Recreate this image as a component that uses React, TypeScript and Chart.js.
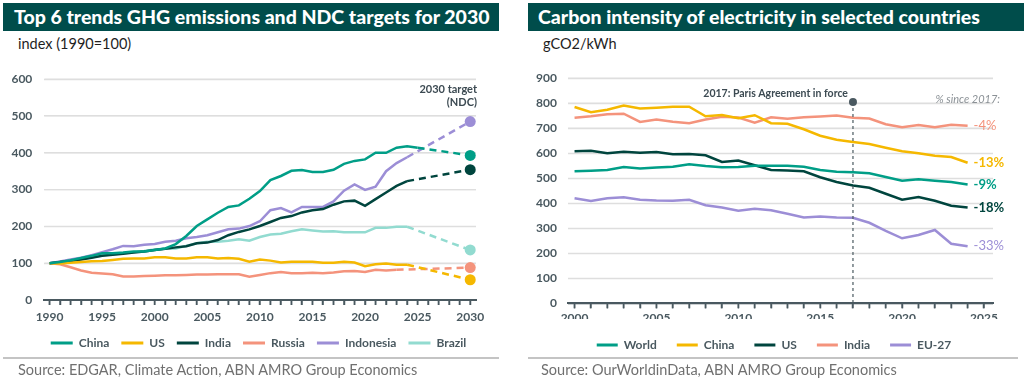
import React, { useEffect, useRef } from 'react';
import { Chart, registerables } from 'chart.js';

Chart.register(...registerables);

const FONT = 'Lato, "Open Sans", "Noto Sans", sans-serif';
Chart.defaults.font.family = FONT;

// ---------- Colours ----------
const TEAL = '#009e87';
const YELLOW = '#f5b800';
const DARK = '#00453e';
const SALMON = '#f4937c';
const PURPLE = '#9c8ed6';
const LIGHTTEAL = '#92dbd0';
const AXIS = '#4a5960';
const BANNER = '#004d4b';
const GRID = '#dedede';

// ---------- Left chart data ----------
const leftYears = [
  1990, 1991, 1992, 1993, 1994, 1995, 1996, 1997, 1998, 1999,
  2000, 2001, 2002, 2003, 2004, 2005, 2006, 2007, 2008, 2009,
  2010, 2011, 2012, 2013, 2014, 2015, 2016, 2017, 2018, 2019,
  2020, 2021, 2022, 2023, 2024, 2025,
];
const leftTickLabels = [1990, 1995, 2000, 2005, 2010, 2015, 2020, 2025, 2030];
const leftSeriesNames = ['China', 'US', 'India', 'Russia', 'Indonesia', 'Brazil'];
const chinaIdx = [
  100, 103, 108, 114, 120, 127, 127, 129, 132, 132,
  136, 140, 152, 174, 201, 219, 237, 253, 257, 275,
  296, 326, 337, 351, 353, 348, 348, 354, 370, 378,
  382, 400, 400, 414, 418, 414,
];
const usIdx = [
  100, 99, 101, 103, 105, 106, 109, 112, 113, 113,
  116, 116, 113, 113, 116, 116, 113, 114, 112, 104,
  110, 107, 102, 104, 104, 104, 101, 101, 104, 102,
  92, 97, 99, 96, 96,
];
const indiaIdx = [
  100, 103, 106, 110, 115, 120, 123, 126, 129, 132,
  136, 139, 143, 146, 154, 156, 163, 176, 185, 192,
  201, 212, 223, 228, 238, 244, 247, 259, 268, 270,
  256, 274, 292, 310, 323,
];
const russiaIdx = [
  100, 97, 89, 80, 74, 72, 70, 64, 64, 65,
  66, 67, 67, 68, 69, 69, 70, 70, 70, 63,
  68, 73, 76, 73, 73, 74, 73, 75, 78, 79,
  76, 82, 80, 82,
];
const indonesiaIdx = [
  100, 105, 110, 115, 122, 130, 138, 147, 146, 150,
  152, 158, 161, 168, 171, 176, 184, 192, 194, 201,
  214, 244, 250, 238, 253, 253, 253, 268, 297, 314,
  299, 308, 350, 372, 388,
];
const brazilIdx = [
  100, 103, 107, 111, 116, 121, 124, 127, 130, 133,
  137, 139, 140, 147, 154, 158, 158, 161, 165, 161,
  171, 178, 180, 187, 192, 189, 186, 187, 184, 184,
  184, 196, 196, 199, 199,
];
const targetYear = 2030;
const ndcTargets = [393, 55, 354, 88, 485, 136];

// ---------- Right chart data ----------
const rightYears = [
  2000, 2001, 2002, 2003, 2004, 2005, 2006, 2007, 2008, 2009,
  2010, 2011, 2012, 2013, 2014, 2015, 2016, 2017, 2018, 2019,
  2020, 2021, 2022, 2023, 2024,
];
const rightTickLabels = [2000, 2005, 2010, 2015, 2020, 2025];
const rightSeriesNames = ['World', 'China', 'US', 'India', 'EU-27'];
const worldCI = [
  528, 530, 533, 545, 539, 543, 546, 556, 549, 544,
  545, 550, 550, 550, 546, 533, 526, 524, 520, 505,
  490, 496, 490, 485, 475,
];
const chinaCI = [
  785, 764, 774, 791, 779, 782, 786, 786, 748, 753,
  740, 752, 720, 718, 696, 670, 654, 645, 637, 622,
  608, 600, 590, 585, 562,
];
const usCI = [
  608, 610, 600, 606, 602, 605, 596, 597, 592, 565,
  571, 552, 533, 531, 528, 504, 485, 471, 462, 438,
  414, 425, 410, 390, 383,
];
const indiaCI = [
  742, 748, 756, 758, 725, 735, 726, 720, 735, 746,
  743, 722, 744, 738, 744, 747, 751, 742, 739, 716,
  704, 713, 704, 714, 710,
];
const eu27CI = [
  420, 409, 420, 424, 414, 411, 410, 414, 392, 383,
  370, 378, 372, 358, 343, 347, 343, 342, 322, 290,
  260, 273, 293, 238, 228,
];
const pctSince2017 = ['-9%', '-13%', '-18%', '-4%', '-33%'];
const parisYear = 2017;
const parisLabel = '2017: Paris Agreement in force';
const pctHeader = '% since 2017:';

// ---------- helpers ----------
const toXY = (years: number[], vals: number[]) => vals.map((v, i) => ({ x: years[i], y: v }));

const legendLabels = (count: number, boxWidth: number, padding: number) => ({
  boxWidth,
  boxHeight: 3,
  padding,
  color: AXIS,
  font: { size: 12, weight: 'bold' as const, family: FONT },
  filter: (item: any) => item.datasetIndex < count,
  generateLabels: (chart: any) =>
    (Chart.defaults.plugins.legend.labels as any).generateLabels(chart).map((l: any) => ({
      ...l,
      lineWidth: 0,
      fillStyle: chart.data.datasets[l.datasetIndex].borderColor,
    })),
});

// shifts the legend so that its row is centred on a given canvas x
const legendShift = (centerX: number) => ({
  id: 'legendShift',
  afterLayout(chart: any) {
    const lg = chart.legend;
    if (!lg) return;
    const dx = centerX - (lg.left + lg.right) / 2;
    lg.left += dx;
    lg.right += dx;
  },
});

// paints the horizontal grid, the x axis line and its year tick marks from the chart's own scales
const axesPaint = {
  id: 'axesPaint',
  beforeDatasetsDraw(chart: any) {
    const { ctx, chartArea, scales } = chart;
    const x = scales.x;
    const y = scales.y;
    ctx.save();
    ctx.setLineDash([]);
    ctx.strokeStyle = GRID;
    ctx.lineWidth = 1.2;
    y.ticks.forEach((t: any) => {
      if (t.value === 0) return;
      const py = y.getPixelForValue(t.value);
      ctx.beginPath();
      ctx.moveTo(chartArea.left, py);
      ctx.lineTo(chartArea.right, py);
      ctx.stroke();
    });
    ctx.strokeStyle = AXIS;
    ctx.lineWidth = 1.5;
    x.ticks.forEach((t: any) => {
      const px = x.getPixelForValue(t.value);
      ctx.beginPath();
      ctx.moveTo(px, chartArea.bottom);
      ctx.lineTo(px, chartArea.bottom + 5);
      ctx.stroke();
    });
    ctx.lineWidth = 2;
    ctx.beginPath();
    ctx.moveTo(chartArea.left, chartArea.bottom);
    ctx.lineTo(chartArea.right, chartArea.bottom);
    ctx.stroke();
    ctx.restore();
  },
};

const xTicksEvery = (lo: number, hi: number) => {
  const out: { value: number }[] = [];
  for (let v = lo; v <= hi; v++) out.push({ value: v });
  return out;
};

const xAxis = (min: number, max: number, lo: number, hi: number, labels: number[], height: number, pad: number) => ({
  type: 'linear',
  min,
  max,
  afterBuildTicks: (s: any) => {
    s.ticks = xTicksEvery(lo, hi);
  },
  afterFit: (s: any) => {
    s.height = height;
  },
  ticks: {
    autoSkip: false,
    maxRotation: 0,
    padding: pad,
    color: AXIS,
    font: { size: 12, weight: 'bold' },
    callback: (v: any) => (labels.includes(Number(v)) ? String(v) : ''),
  },
  grid: { drawOnChartArea: false, drawTicks: true, tickLength: 5, tickColor: AXIS, tickWidth: 1.5 },
  border: { display: true, color: AXIS, width: 2 },
});

const yAxis = (max: number, width: number, pad: number) => ({
  min: 0,
  max,
  afterFit: (s: any) => {
    s.width = width;
  },
  ticks: { stepSize: 100, padding: pad, color: AXIS, font: { size: 12, weight: 'bold' } },
  grid: { display: true, drawOnChartArea: true, color: GRID, drawTicks: false, lineWidth: 1.2 },
  border: { display: false },
});

function LeftChart() {
  const ref = useRef<HTMLCanvasElement>(null);
  useEffect(() => {
    const series = [chinaIdx, usIdx, indiaIdx, russiaIdx, indonesiaIdx, brazilIdx];
    const colors = [TEAL, YELLOW, DARK, SALMON, PURPLE, LIGHTTEAL];
    const solid = series.map((s, i) => ({
      label: leftSeriesNames[i],
      data: toXY(leftYears, s),
      borderColor: colors[i],
      backgroundColor: colors[i],
      borderWidth: 2.5,
      pointRadius: 0,
      tension: 0,
      fill: false,
    }));
    const dashed = series.map((s, i) => ({
      label: leftSeriesNames[i] + ' target',
      data: [
        { x: leftYears[s.length - 1], y: s[s.length - 1] },
        { x: targetYear, y: ndcTargets[i] },
      ],
      borderColor: colors[i],
      backgroundColor: colors[i],
      borderWidth: 2.5,
      borderDash: [7, 5],
      pointRadius: [0, 5.5],
      pointBackgroundColor: colors[i],
      pointBorderWidth: 0,
      fill: false,
    }));
    const annot = {
      id: 'leftAnnot',
      afterDatasetsDraw(chart: any) {
        const { ctx, chartArea, scales } = chart;
        const y = scales.y;
        ctx.save();
        ctx.font = `bold 11px ${FONT}`;
        ctx.fillStyle = '#3c4a52';
        ctx.textAlign = 'right';
        ctx.textBaseline = 'middle';
        ctx.fillText('2030 target', chartArea.right + 1, y.getPixelForValue(572));
        ctx.fillText('(NDC)', chartArea.right + 1, y.getPixelForValue(537));
        ctx.restore();
      },
    };
    const chart = new Chart(ref.current!, {
      type: 'line',
      data: { datasets: [...solid, ...dashed] as any },
      options: {
        animation: false,
        responsive: false,
        maintainAspectRatio: false,
        layout: { padding: { left: 2, right: 34, top: 16, bottom: 0 } },
        plugins: {
          legend: { position: 'bottom', labels: legendLabels(6, 22, 12) as any },
          tooltip: { enabled: false },
        },
        scales: {
          x: xAxis(1989.5, 2030.55, 1990, 2030, leftTickLabels, 25, 5) as any,
          y: yAxis(600, 42.3, 12) as any,
        },
      },
      plugins: [axesPaint, annot, legendShift(258.5)],
    });
    return () => chart.destroy();
  }, []);
  return <canvas ref={ref} width={510} height={299} style={{ position: 'absolute', left: 0, top: 60 }} />;
}

function RightChart() {
  const ref = useRef<HTMLCanvasElement>(null);
  useEffect(() => {
    const series = [worldCI, chinaCI, usCI, indiaCI, eu27CI];
    const colors = [TEAL, YELLOW, DARK, SALMON, PURPLE];
    const ds = series.map((s, i) => ({
      label: rightSeriesNames[i],
      data: toXY(rightYears, s),
      borderColor: colors[i],
      backgroundColor: colors[i],
      borderWidth: 2.5,
      pointRadius: 0,
      fill: false,
    }));
    const annot = {
      id: 'rightAnnot',
      afterDatasetsDraw(chart: any) {
        const { ctx, chartArea, scales } = chart;
        const x = scales.x;
        const y = scales.y;
        const px = x.getPixelForValue(parisYear);
        const topY = y.getPixelForValue(805);
        ctx.save();
        ctx.strokeStyle = '#4a5960';
        ctx.lineWidth = 1.2;
        ctx.setLineDash([3, 3]);
        ctx.beginPath();
        ctx.moveTo(px, topY);
        ctx.lineTo(px, chartArea.bottom);
        ctx.stroke();
        ctx.setLineDash([]);
        ctx.fillStyle = '#4a5960';
        ctx.beginPath();
        ctx.arc(px, topY, 4, 0, Math.PI * 2);
        ctx.fill();
        ctx.font = `bold 10.5px ${FONT}`;
        ctx.fillStyle = '#3c4a52';
        ctx.textAlign = 'right';
        ctx.textBaseline = 'middle';
        ctx.fillText(parisLabel, px - 5, topY - 8);
        ctx.font = `italic 11px ${FONT}`;
        ctx.fillStyle = '#8b9196';
        ctx.fillText(pctHeader, chartArea.right + 7, y.getPixelForValue(817));
        ctx.textAlign = 'left';
        series.forEach((s, i) => {
          const lastX = x.getPixelForValue(rightYears[s.length - 1]);
          const lastY = y.getPixelForValue(s[s.length - 1]);
          const bold = i === 1 || i === 2 || i === 0;
          ctx.font = `${bold ? 'bold ' : ''}13px ${FONT}`;
          ctx.fillStyle = colors[i];
          ctx.fillText(pctSince2017[i], lastX + 6, lastY);
        });
        ctx.restore();
      },
    };
    const chart = new Chart(ref.current!, {
      type: 'line',
      data: { datasets: ds as any },
      options: {
        animation: false,
        responsive: false,
        maintainAspectRatio: false,
        layout: { padding: { left: 2, right: 36, top: 13, bottom: 0 } },
        plugins: {
          legend: { position: 'bottom', labels: legendLabels(5, 21, 20) as any },
          tooltip: { enabled: false },
        },
        scales: {
          x: xAxis(1999.6, 2025.55, 2000, 2025, rightTickLabels, 15.7, 3) as any,
          y: yAxis(900, 51, 11) as any,
        },
      },
      plugins: [axesPaint, annot, legendShift(259)],
    });
    return () => chart.destroy();
  }, []);
  return <canvas ref={ref} width={514} height={301} style={{ position: 'absolute', left: 515, top: 60 }} />;
}

const bannerStyle = (left: number, padLeft: number): React.CSSProperties => ({
  position: 'absolute',
  left,
  top: 3,
  width: 496 - padLeft,
  height: 28,
  paddingLeft: padLeft,
  background: BANNER,
  color: '#ffffff',
  fontFamily: FONT,
  fontWeight: 900,
  fontSize: 19.5,
  lineHeight: '28px',
  whiteSpace: 'nowrap',
  overflow: 'hidden',
});

const subStyle = (left: number): React.CSSProperties => ({
  position: 'absolute',
  left,
  top: 36,
  fontFamily: FONT,
  fontSize: 14.5,
  lineHeight: '16px',
  color: '#1e1e1e',
  whiteSpace: 'nowrap',
});

const dividerStyle = (left: number, width: number): React.CSSProperties => ({
  position: 'absolute',
  left,
  top: 357,
  width,
  height: 1.5,
  background: '#c4c4c4',
  zIndex: 2,
});

const sourceStyle = (left: number): React.CSSProperties => ({
  position: 'absolute',
  left,
  top: 361,
  fontFamily: FONT,
  fontSize: 14.5,
  lineHeight: '18px',
  color: '#707070',
  whiteSpace: 'nowrap',
  zIndex: 2,
});

export default function App() {
  return (
    <div style={{ position: 'absolute', left: 0, top: 0, width: 1029, height: 384, background: '#ffffff', overflow: 'hidden' }}>
      <div style={bannerStyle(3, 11)}>Top 6 trends GHG emissions and NDC targets for 2030</div>
      <div style={subStyle(18)}>index (1990=100)</div>
      <LeftChart />
      <div style={dividerStyle(3, 496)} />
      <div style={sourceStyle(18)}>Source: EDGAR, Climate Action, ABN AMRO Group Economics</div>

      <div style={bannerStyle(528, 10)}>Carbon intensity of electricity in selected countries</div>
      <div style={subStyle(543)}>gCO2/kWh</div>
      <RightChart />
      <div style={dividerStyle(528, 490)} />
      <div style={sourceStyle(541)}>Source: OurWorldinData, ABN AMRO Group Economics</div>
    </div>
  );
}
